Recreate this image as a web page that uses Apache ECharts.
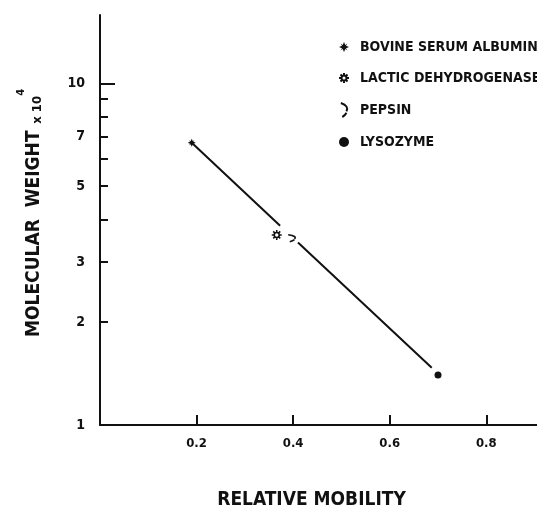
<!DOCTYPE html>
<html>
<head>
<meta charset="utf-8">
<script src="https://cdn.jsdelivr.net/npm/echarts@6/dist/echarts.min.js"></script>
<style>html,body{margin:0;padding:0;background:#fff;}#c{width:537px;height:511px;}</style>
</head>
<body>
<div id="c"></div>
<script>
// ---- data ----
const proteins = ['BOVINE SERUM ALBUMIN', 'LACTIC DEHYDROGENASE', 'PEPSIN', 'LYSOZYME'];
const mobility = [0.19, 0.366, 0.397, 0.70];
const molWeight = [6.7, 3.6, 3.52, 1.40];       // x 10^4
const fitMobility = [0.19, 0.373, null, 0.41, 0.687];
const fitWeight = [6.7, 3.83, null, 3.42, 1.47];
const xTickValues = [0.2, 0.4, 0.6, 0.8];
const yTickValues = [1, 2, 3, 4, 5, 6, 7, 8, 9, 10];
const yLabelValues = [1, 2, 3, 5, 7, 10];

// ---- styling ----
const FONT = "'DejaVu Sans Condensed', 'DejaVu Sans', sans-serif";
const INK = '#111';
const symbols = [
  'path://M0,-5 L1.5,-1.5 L5,0 L1.5,1.5 L0,5 L-1.5,1.5 L-5,0 L-1.5,-1.5 Z M-3.5,-3.5 L0,-1 L3.5,-3.5 L1,0 L3.5,3.5 L0,1 L-3.5,3.5 L-1,0 Z',
  'path://M-2.5,0 A2.5,2.5 0 1 1 2.5,0 A2.5,2.5 0 1 1 -2.5,0 Z M0,-2.5 L0,-5 M0,2.5 L0,5 M-2.5,0 L-5,0 M2.5,0 L5,0 M-1.8,-1.8 L-3.5,-3.5 M1.8,-1.8 L3.5,-3.5 M-1.8,1.8 L-3.5,3.5 M1.8,1.8 L3.5,3.5',
  'path://M-3,-5 Q3,-3 1,1 M1,2 Q0,4 -2,5',
  'circle'
];
const symbolSizes = [8, 10, 7, 7];
const L = Math.log10;

const pointSeries = proteins.map((name, i) => {
  const isOutline = i === 1 || i === 2;
  return {
    name: name,
    type: 'scatter',
    data: [[mobility[i], L(molWeight[i])]],
    symbol: symbols[i],
    symbolSize: symbolSizes[i],
    itemStyle: isOutline
      ? { color: 'rgba(0,0,0,0)', borderColor: INK, borderWidth: 1.6, opacity: 1 }
      : { color: INK, opacity: 1 },
    z: 3
  };
});

const fitData = fitMobility.map((x, i) => (x === null ? null : [x, L(fitWeight[i])]));

const option = {
  backgroundColor: '#fff',
  animation: false,
  grid: { left: 100, right: 0, top: 15, bottom: 86, containLabel: false, outerBoundsMode: 'none' },
  legend: {
    data: proteins,
    orient: 'vertical',
    left: 333,
    top: 35,
    itemWidth: 10,
    itemHeight: 14,
    itemGap: 17,
    itemStyle: { opacity: 1 },
    textStyle: { fontFamily: FONT, fontWeight: 'bold', fontSize: 14, color: INK, padding: [0, 0, 0, 6] },
    selectedMode: false
  },
  xAxis: {
    type: 'value',
    min: 0,
    max: 0.905,
    name: 'RELATIVE MOBILITY',
    nameLocation: 'middle',
    nameGap: 66,
    nameTextStyle: { fontFamily: FONT, fontWeight: 'bold', fontSize: 19, color: INK, padding: [0, 14, 0, 0] },
    splitLine: { show: false },
    axisLine: { lineStyle: { color: INK, width: 2 } },
    axisTick: { inside: true, length: 10, customValues: xTickValues, lineStyle: { color: INK, width: 2 } },
    axisLabel: {
      customValues: xTickValues,
      margin: 12,
      fontFamily: FONT, fontWeight: 'bold', fontSize: 13, color: INK,
      formatter: v => String(v)
    }
  },
  yAxis: [{
    type: 'value',
    min: 0,
    max: 1.2,
    position: 'left',
    name: '{a|MOLECULAR  WEIGHT}  {b|x 10}{c|4}',
    nameLocation: 'middle',
    nameGap: 56,
    nameTextStyle: {
      padding: [0, 0, 0, 14],
      rich: {
        a: { fontFamily: FONT, fontWeight: 'bold', fontSize: 19, color: INK, lineHeight: 28, verticalAlign: 'bottom' },
        b: { fontFamily: FONT, fontWeight: 'bold', fontSize: 13, color: INK, lineHeight: 28, verticalAlign: 'bottom' },
        c: { fontFamily: FONT, fontWeight: 'bold', fontSize: 11, color: INK, lineHeight: 28, verticalAlign: 'top' }
      }
    },
    splitLine: { show: false },
    axisLine: { lineStyle: { color: INK, width: 2 } },
    axisTick: { inside: true, length: 8, customValues: yTickValues.map(L), lineStyle: { color: INK, width: 2 } },
    axisLabel: {
      customValues: yLabelValues.map(L),
      margin: 15,
      fontFamily: FONT, fontWeight: 'bold', fontSize: 14, color: INK,
      formatter: v => String(Math.round(Math.pow(10, v)))
    }
  }, {
    type: 'value',
    min: 0,
    max: 1.2,
    position: 'left',
    offset: 0,
    splitLine: { show: false },
    axisLine: { show: false },
    axisLabel: { show: false },
    axisTick: { inside: true, length: 15, customValues: [1], lineStyle: { color: INK, width: 2 } }
  }],
  series: [{
    name: 'fit',
    type: 'line',
    data: fitData,
    showSymbol: false,
    connectNulls: false,
    lineStyle: { color: INK, width: 2 },
    z: 2
  }].concat(pointSeries)
};

echarts.init(document.getElementById('c')).setOption(option);
</script>
</body>
</html>
